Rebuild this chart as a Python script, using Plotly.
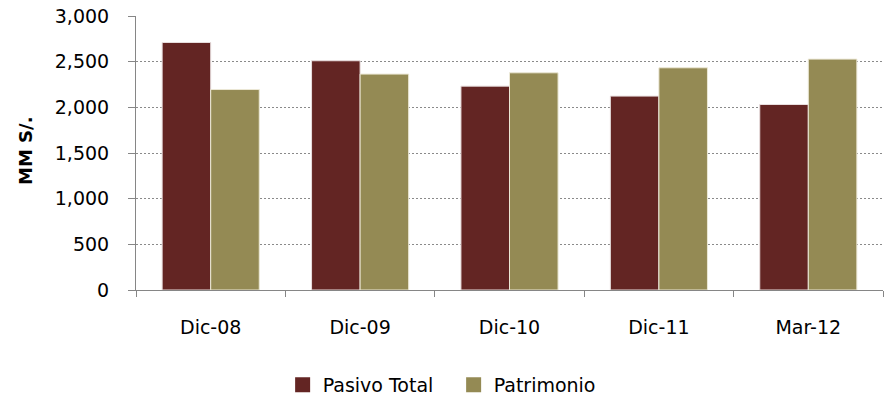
import plotly.graph_objects as go

categories = ["Dic-08", "Dic-09", "Dic-10", "Dic-11", "Mar-12"]
pasivo_total = [2710, 2510, 2232, 2123, 2031]
patrimonio = [2195, 2364, 2378, 2433, 2528]
y_ticks = [0, 500, 1000, 1500, 2000, 2500, 3000]
y_tick_labels = ["0", "500", "1,000", "1,500", "2,000", "2,500", "3,000"]

FONT = "DejaVu Sans"
MAROON = "#632523"
OLIVE = "#948a54"

fig = go.Figure()
fig.add_trace(go.Bar(
    name="Pasivo Total", x=categories, y=pasivo_total, showlegend=False,
    marker=dict(color=MAROON, line=dict(color="#e8dede", width=1)),
))
fig.add_trace(go.Bar(
    name="Patrimonio", x=categories, y=patrimonio, showlegend=False,
    marker=dict(color=OLIVE, line=dict(color="#ece8d6", width=1)),
))
# Legend keys drawn as square markers
for name, color in [("Pasivo Total", MAROON), ("Patrimonio", OLIVE)]:
    fig.add_trace(go.Scatter(
        name=name, x=[None], y=[None], mode="markers",
        marker=dict(symbol="square", size=15, color=color),
    ))

fig.update_layout(
    width=886, height=398,
    margin=dict(l=136, r=3, t=16, b=108),
    paper_bgcolor="white", plot_bgcolor="white",
    barmode="group", bargap=0.35, bargroupgap=0,
    font=dict(family=FONT, size=19, color="#000000"),
    showlegend=True,
    legend=dict(
        orientation="h", xref="container", yref="container",
        x=0.512, xanchor="center", y=0.033, yanchor="middle",
        font=dict(family=FONT, size=19),
        entrywidth=126, entrywidthmode="pixels",
        traceorder="normal",
    ),
    xaxis=dict(
        showline=True, linecolor="#868686", linewidth=1,
        ticks="outside", tickson="boundaries", ticklen=6, tickcolor="#868686",
        ticklabelstandoff=20, showgrid=False,
        tickfont=dict(family=FONT, size=19),
    ),
    yaxis=dict(
        range=[0, 3000], tickvals=y_ticks, ticktext=y_tick_labels,
        showline=True, linecolor="#868686", linewidth=1,
        ticks="outside", ticklen=7, tickcolor="#868686",
        ticklabelstandoff=15,
        showgrid=True, gridcolor="#8a8a8a", griddash="2px,2px", gridwidth=1,
        zeroline=False, tickfont=dict(family=FONT, size=19),
    ),
    annotations=[dict(
        text="<b>MM S/.</b>", textangle=-90, xref="paper", yref="paper",
        x=(25 - 136) / 747, y=(290 - 151) / 274, xanchor="center", yanchor="middle",
        showarrow=False, font=dict(family=FONT, size=18),
    )],
)

fig.write_html("out.html")
